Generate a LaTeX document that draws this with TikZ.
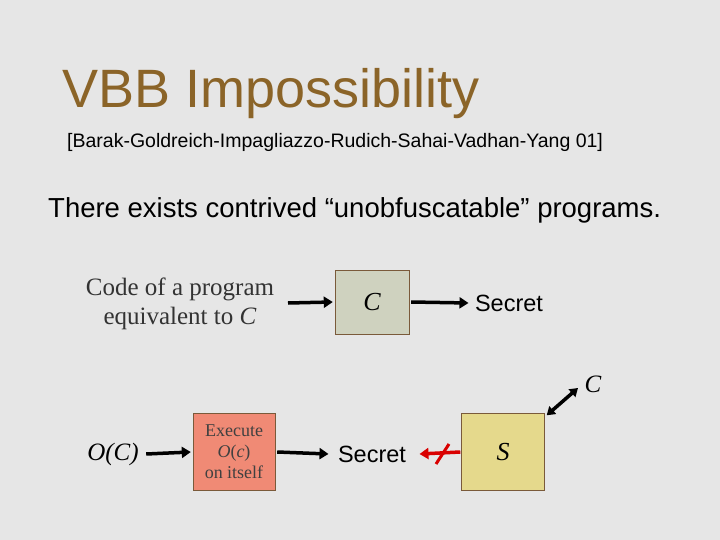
\documentclass[tikz,border=0pt]{standalone}
\usepackage{fontspec}
\setmainfont{Liberation Sans}
\newfontfamily\serif{Liberation Serif}
\usetikzlibrary{arrows.meta}
\definecolor{bg}{HTML}{E6E6E6}
\definecolor{titlec}{HTML}{8B6428}
\definecolor{cbox}{HTML}{CFD2BF}
\definecolor{rbox}{HTML}{F08A75}
\definecolor{sbox}{HTML}{E5D98C}
\definecolor{bord}{HTML}{7A5A3A}
\tikzset{
 arr/.style={line width=3.5pt,-{Triangle[length=9pt,width=11pt]}},
}
\begin{document}
\begin{tikzpicture}[x=1pt,y=-1pt]
\fill[bg] (0,0) rectangle (720,540);
\node[anchor=base west,text=titlec,font=\fontsize{54}{60}\selectfont,inner sep=0] (title) at (62,108) {VBB Impossibility};
\node[anchor=base west,font=\fontsize{19.5}{22}\selectfont,inner sep=0] (cite) at (67,148) {[Barak-Goldreich-Impagliazzo-Rudich-Sahai-Vadhan-Yang 01]};
\node[anchor=base west,font=\fontsize{27.5}{32}\selectfont,inner sep=0] (claim) at (48,218) {There exists contrived “unobfuscatable” programs.};
\node[align=center,font=\serif\fontsize{25}{29}\selectfont,text=black!80] (code) at (180,304) {Code of a program\\equivalent to \textit{C}};
\node[draw=bord,fill=cbox,minimum width=74,minimum height=64,font=\serif\itshape\fontsize{26}{28}\selectfont] (C) at (372,302) {C};
\node[font=\fontsize{23.5}{27}\selectfont] (sec1) at (509,303) {Secret};
\coordinate (a1) at (288,303);
\draw[arr] (a1) -- ([xshift=-2pt]C.west);
\draw[arr] ([xshift=2pt]C.east) -- ([xshift=-3pt]sec1.west);
\node[font=\serif\itshape\fontsize{25}{28}\selectfont] (OC) at (113,454) {O(C)};
\node[draw=bord,fill=rbox,minimum width=82,minimum height=77,align=center,text=black!75,font=\serif\fontsize{18}{21}\selectfont] (ex) at (234,452) {Execute\\\textit{O}(\textit{c})\\on itself};
\node[font=\fontsize{23.5}{27}\selectfont] (sec2) at (372,454) {Secret};
\node[draw=bord,fill=sbox,minimum width=83,minimum height=77,font=\serif\itshape\fontsize{26}{28}\selectfont] (S) at (503,452) {S};
\node[font=\serif\itshape\fontsize{25}{28}\selectfont] (C2) at (593,384) {C};
\draw[arr] ([xshift=4pt]OC.east) -- ([xshift=-2pt]ex.west);
\draw[arr] ([xshift=2pt]ex.east) -- ([xshift=-6pt]sec2.west);
\draw[arr,red!85!black] ([xshift=-1pt]S.west) -- ([xshift=10pt]sec2.east);
\draw[red!85!black,line width=3pt] (436,464) -- (449,444);
\draw[line width=3.5pt,{Triangle[length=8pt,width=10pt]}-{Triangle[length=8pt,width=10pt]}] ([shift={(2pt,-2pt)}]S.north east) -- (578,388);
\end{tikzpicture}
\end{document}
